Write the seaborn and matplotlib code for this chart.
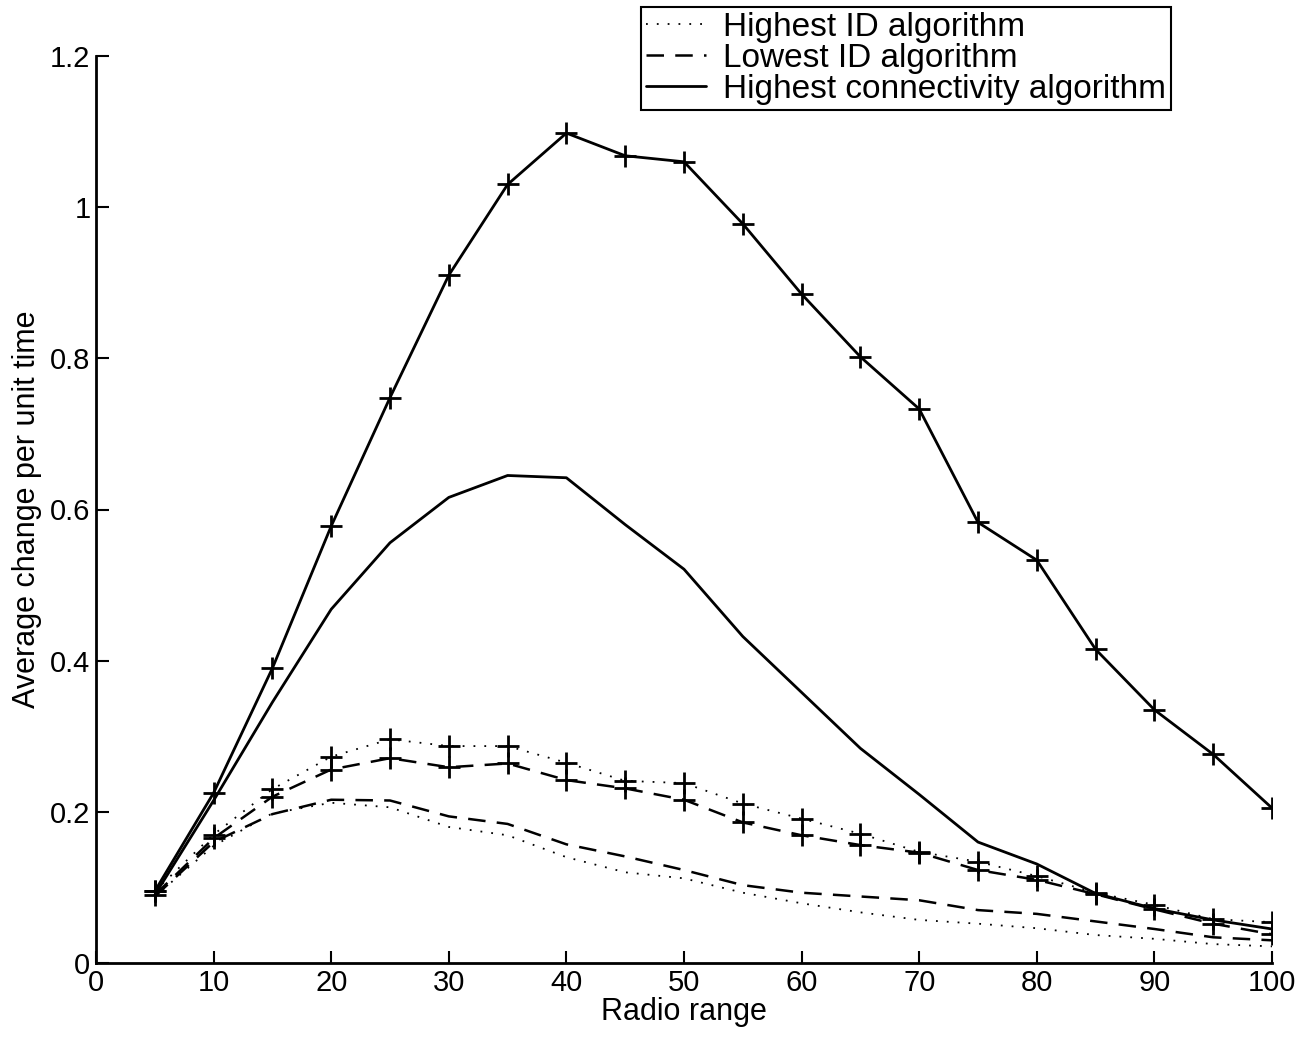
import matplotlib
matplotlib.use("Agg")
import matplotlib.pyplot as plt
import seaborn as sns
import pandas as pd
from matplotlib.lines import Line2D

radio_range = [5, 10, 15, 20, 25, 30, 35, 40, 45, 50, 55, 60, 65, 70, 75, 80, 85, 90, 95, 100]

highest_id = [0.088, 0.155, 0.198, 0.212, 0.206, 0.180, 0.169, 0.140, 0.120, 0.112,
              0.093, 0.079, 0.067, 0.057, 0.052, 0.046, 0.037, 0.032, 0.025, 0.022]
lowest_id = [0.088, 0.160, 0.197, 0.216, 0.215, 0.194, 0.184, 0.157, 0.141, 0.123,
             0.103, 0.093, 0.088, 0.083, 0.070, 0.065, 0.055, 0.045, 0.034, 0.030]
highest_conn = [0.090, 0.215, 0.345, 0.468, 0.556, 0.616, 0.645, 0.642, 0.580, 0.521,
                0.432, 0.358, 0.284, 0.223, 0.160, 0.131, 0.092, 0.072, 0.057, 0.045]

highest_id_plus = [0.095, 0.170, 0.230, 0.273, 0.296, 0.287, 0.287, 0.265, 0.241, 0.238,
                   0.211, 0.191, 0.171, 0.147, 0.134, 0.115, 0.093, 0.077, 0.058, 0.054]
lowest_id_plus = [0.090, 0.165, 0.220, 0.256, 0.271, 0.259, 0.264, 0.242, 0.231, 0.216,
                  0.186, 0.169, 0.156, 0.146, 0.123, 0.110, 0.091, 0.071, 0.052, 0.038]
highest_conn_plus = [0.095, 0.225, 0.390, 0.578, 0.748, 0.910, 1.030, 1.098, 1.068, 1.060,
                     0.978, 0.885, 0.802, 0.733, 0.583, 0.533, 0.415, 0.335, 0.276, 0.205]

legend_labels = ["Highest ID algorithm", "Lowest ID algorithm", "Highest connectivity algorithm"]
x_ticks = [0, 10, 20, 30, 40, 50, 60, 70, 80, 90, 100]
y_ticks = [0, 0.2, 0.4, 0.6, 0.8, 1.0, 1.2]
y_tick_labels = ["0", "0.2", "0.4", "0.6", "0.8", "1", "1.2"]

sns.set_style("ticks")
plt.rcParams["font.family"] = ["Liberation Sans", "DejaVu Sans"]
plt.rcParams["text.color"] = "black"
plt.rcParams["axes.labelcolor"] = "black"
plt.rcParams["xtick.color"] = "black"
plt.rcParams["ytick.color"] = "black"

fig = plt.figure(figsize=(13.03, 10.42), dpi=100)
ax = fig.add_axes([96 / 1303, 1 - 963 / 1042, (1272 - 96) / 1303, (963 - 56) / 1042])

dotted = (0, (1, 5))
dashed = (0, (7, 4.5))

series = [
    (highest_id, dotted, 1.3, None),
    (lowest_id, dashed, 1.8, None),
    (highest_conn, "-", 2.0, None),
    (highest_id_plus, dotted, 1.3, "+"),
    (lowest_id_plus, dashed, 1.8, "+"),
    (highest_conn_plus, "-", 2.0, "+"),
]
for vals, ls, lw, mk in series:
    df = pd.DataFrame({"x": radio_range, "y": vals})
    kw = dict(marker=mk, markersize=16, markeredgewidth=2.0, markeredgecolor="black") if mk else {}
    sns.lineplot(data=df, x="x", y="y", ax=ax, color="black", linestyle=ls, linewidth=lw,
                 estimator=None, sort=False, **kw)

ax.set_xlim(0, 100)
ax.set_ylim(0, 1.2)
ax.set_xticks(x_ticks)
ax.set_xticklabels([str(t) for t in x_ticks])
ax.set_yticks(y_ticks)
ax.set_yticklabels(y_tick_labels)
ax.tick_params(direction="in", length=9, width=1.5, labelsize=21, colors="black",
               labelcolor="black", pad=4)
for s in ["top", "right"]:
    ax.spines[s].set_visible(False)
for s in ["left", "bottom"]:
    ax.spines[s].set_linewidth(2.0)
    ax.spines[s].set_color("black")

ax.set_xlabel("Radio range", fontsize=22, labelpad=0, color="black")
ax.set_ylabel("Average change per unit time", fontsize=22, labelpad=6, color="black")

handles = [Line2D([], [], color="black", linestyle=dotted, linewidth=1.3),
           Line2D([], [], color="black", linestyle=dashed, linewidth=1.8),
           Line2D([], [], color="black", linestyle="-", linewidth=2.0)]
leg = fig.legend(handles, legend_labels, loc="upper left", bbox_to_anchor=(641 / 1303, 1 - 7 / 1042),
                 fontsize=24, frameon=True, fancybox=False, framealpha=1, edgecolor="black",
                 handlelength=1.8, handletextpad=0.5, labelspacing=0.0, borderpad=0.15,
                 borderaxespad=0, labelcolor="black")
leg.get_frame().set_linewidth(1.5)

fig.savefig("out.png", dpi=100)
